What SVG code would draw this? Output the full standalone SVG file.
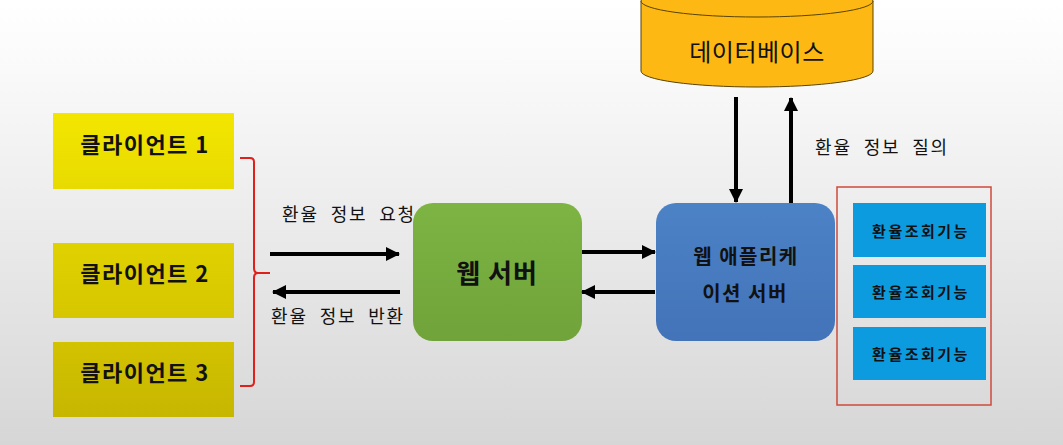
<svg xmlns="http://www.w3.org/2000/svg" width="1063" height="445" viewBox="0 0 1063 445">
<defs>
<linearGradient id="bg" x1="0" y1="0" x2="0" y2="1">
<stop offset="0" stop-color="#ffffff"/>
<stop offset="0.15" stop-color="#fafafa"/>
<stop offset="1" stop-color="#d6d6d6"/>
</linearGradient>
<linearGradient id="yel" gradientUnits="userSpaceOnUse" x1="0" y1="110" x2="0" y2="420">
<stop offset="0" stop-color="#f3e700"/>
<stop offset="1" stop-color="#c7b600"/>
</linearGradient>
<linearGradient id="grn" x1="0" y1="0" x2="0" y2="1">
<stop offset="0" stop-color="#7db443"/>
<stop offset="1" stop-color="#70a33a"/>
</linearGradient>
<linearGradient id="blu" x1="0" y1="0" x2="0" y2="1">
<stop offset="0" stop-color="#4c82c6"/>
<stop offset="1" stop-color="#4373b8"/>
</linearGradient>
<marker id="ah" viewBox="0 0 14 14" refX="13" refY="7" markerWidth="14" markerHeight="14" markerUnits="userSpaceOnUse" orient="auto">
<path d="M0,0 L14,7 L0,14 Z" fill="#000"/>
</marker>
<style>
.t{font-family:"Noto Sans CJK KR","Noto Sans",sans-serif;fill:#111;text-anchor:middle;dominant-baseline:central}
.cl{font-size:22px;font-weight:700;letter-spacing:1.5px}
.lb{font-size:18px;letter-spacing:1.8px;word-spacing:6px}
.fn{font-size:15px;font-weight:700;letter-spacing:2.5px}
.client{fill:url(#yel)}
.func{fill:#0d9be0}
.arr{stroke:#000;stroke-width:4;fill:none;marker-end:url(#ah)}
</style>
</defs>
<rect x="0" y="0" width="1063" height="445" fill="url(#bg)"/>

<g id="db">
<path d="M641,1 L641,71 A116,16 0 0 0 873,71 L873,1 Z" fill="#fdb813" stroke="#5a4400" stroke-width="1"/>
<ellipse cx="757" cy="1" rx="116" ry="16" fill="#fdb813" stroke="#5a4400" stroke-width="1"/>
<text class="t" x="757" y="50" style="font-size:24px;letter-spacing:0.5px">데이터베이스</text>
</g>

<g id="client1">
<rect class="client" x="53" y="113" width="181" height="76"/>
<text class="t cl" x="145" y="143">클라이언트 1</text>
</g>
<g id="client2">
<rect class="client" x="53" y="243" width="181" height="75"/>
<text class="t cl" x="145" y="272">클라이언트 2</text>
</g>
<g id="client3">
<rect class="client" x="53" y="342" width="181" height="75"/>
<text class="t cl" x="145" y="371">클라이언트 3</text>
</g>

<g id="bracket">
<path d="M240,158 L250,158 Q254,158 254,162 L254,268 Q254,273 258,273 L270,273 M258,273 Q254,273 254,278 L254,382 Q254,386 250,386 L240,386" fill="none" stroke="#e0201a" stroke-width="2"/>
</g>

<g id="webserver">
<rect x="413" y="203" width="169" height="138" rx="20" fill="url(#grn)"/>
<text class="t" x="497" y="271" style="font-size:26px;font-weight:700;letter-spacing:1px">웹 서버</text>
</g>

<g id="appserver">
<rect x="656" y="203" width="179" height="138" rx="20" fill="url(#blu)"/>
<text class="t" x="746" y="255" style="font-size:20px;font-weight:700;letter-spacing:1.5px">웹 애플리케</text>
<text class="t" x="745" y="292" style="font-size:20px;font-weight:700;letter-spacing:1.5px">이션 서버</text>
</g>

<g id="functions">
<rect x="837" y="187" width="154" height="218" fill="none" stroke="#d04a3c" stroke-width="1.5"/>
<rect class="func" x="853" y="203" width="133" height="54"/>
<text class="t fn" x="921" y="230">환율조회기능</text>
<rect class="func" x="853" y="265" width="133" height="53"/>
<text class="t fn" x="921" y="291">환율조회기능</text>
<rect class="func" x="853" y="327" width="133" height="53"/>
<text class="t fn" x="921" y="353">환율조회기능</text>
</g>

<g id="connectors">
<line class="arr" x1="270" y1="254" x2="399" y2="254"/>
<line class="arr" x1="400" y1="292" x2="273" y2="292"/>
<line class="arr" x1="582" y1="252" x2="655" y2="252"/>
<line class="arr" x1="655" y1="292" x2="582" y2="292"/>
<line class="arr" x1="736" y1="97" x2="736" y2="202"/>
<line class="arr" x1="791" y1="203" x2="791" y2="98"/>
</g>

<g id="labels">
<text class="t lb" x="349" y="213">환율 정보 요청</text>
<text class="t lb" x="338" y="315">환율 정보 반환</text>
<text class="t lb" x="882" y="146">환율 정보 질의</text>
</g>
</svg>
